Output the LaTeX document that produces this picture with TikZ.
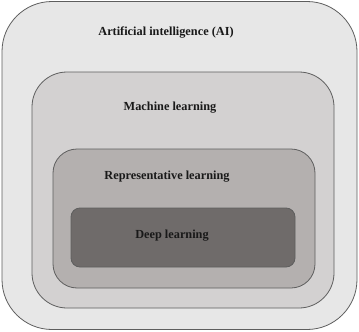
\documentclass[tikz,border=0pt]{standalone}
\usepackage{fontspec}
\setmainfont{Liberation Serif}
\usepackage{tikz}
\usetikzlibrary{positioning}
\usepackage{xcolor}
\definecolor{aifill}{HTML}{E7E7E7}
\definecolor{mlfill}{HTML}{D3D1D1}
\definecolor{rlfill}{HTML}{B4B0AF}
\definecolor{dlfill}{HTML}{6F6B6A}
\definecolor{edge}{HTML}{5E5E5E}

\begin{document}
\begin{tikzpicture}[x=1pt,y=-1pt,
  layer/.style={draw=edge,line width=0.8pt,rectangle,inner sep=0pt},
  lbl/.style={font=\fontsize{12.3}{14}\selectfont\bfseries,text=black!90}]
\useasboundingbox (0,0) rectangle (359,332);
\node[layer,fill=aifill,rounded corners=50pt,minimum width=355pt,minimum height=328pt] (ai) at (179.5,165.5) {};
\node[layer,fill=mlfill,rounded corners=35pt,minimum width=302pt,minimum height=236pt] (ml) at (183,190) {};
\node[layer,fill=rlfill,rounded corners=24pt,minimum width=262pt,minimum height=139pt] (rl) at (184,218.5) {};
\node[layer,fill=dlfill,rounded corners=9pt,minimum width=224pt,minimum height=59pt] (dl) at (183,237.5) {};
\node[lbl] (aitxt) at (166,33) {Artificial intelligence (AI)};
\node[lbl] (mltxt) at (170,108) {Machine learning};
\node[lbl] (rltxt) at (167,177) {Representative learning};
\node[lbl] (dltxt) at (172,236) {Deep learning};
\end{tikzpicture}
\end{document}
